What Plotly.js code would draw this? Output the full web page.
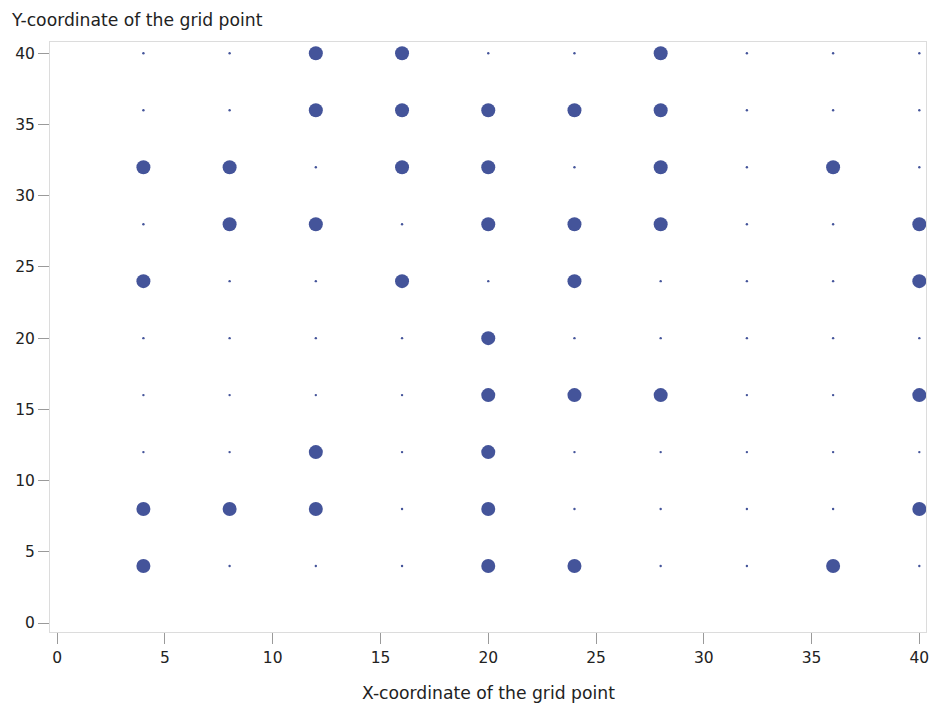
<!DOCTYPE html>
<html>
<head>
<meta charset="utf-8">
<script src="https://cdn.plot.ly/plotly-3.0.1.min.js"></script>
<style>html,body{margin:0;padding:0;background:#fff;}#chart{width:932px;height:707px;}</style>
</head>
<body>
<div id="chart"></div>
<script>
// Grid coordinates
const gridX = [4, 8, 12, 16, 20, 24, 28, 32, 36, 40];
const gridY = [40, 36, 32, 28, 24, 20, 16, 12, 8, 4];
// Occupancy of each grid point (1 = occupied, 0 = empty), rows follow gridY, columns follow gridX
const row40 = [0, 0, 1, 1, 0, 0, 1, 0, 0, 0];
const row36 = [0, 0, 1, 1, 1, 1, 1, 0, 0, 0];
const row32 = [1, 1, 0, 1, 1, 0, 1, 0, 1, 0];
const row28 = [0, 1, 1, 0, 1, 1, 1, 0, 0, 1];
const row24 = [1, 0, 0, 1, 0, 1, 0, 0, 0, 1];
const row20 = [0, 0, 0, 0, 1, 0, 0, 0, 0, 0];
const row16 = [0, 0, 0, 0, 1, 1, 1, 0, 0, 1];
const row12 = [0, 0, 1, 0, 1, 0, 0, 0, 0, 0];
const row08 = [1, 1, 1, 0, 1, 0, 0, 0, 0, 1];
const row04 = [1, 0, 0, 0, 1, 1, 0, 0, 1, 0];
const occupancy = [row40, row36, row32, row28, row24, row20, row16, row12, row08, row04];
const tickVals = [0, 5, 10, 15, 20, 25, 30, 35, 40];
const xTitle = "X-coordinate of the grid point";
const yTitle = "Y-coordinate of the grid point";

const xs = [], ys = [], sizes = [];
gridY.forEach((y, i) => {
  gridX.forEach((x, j) => {
    xs.push(x); ys.push(y);
    sizes.push(occupancy[i][j] ? 14 : 2.4);
  });
});

const font = "DejaVu Sans, Verdana, sans-serif";
const trace = {
  type: "scatter", mode: "markers", x: xs, y: ys,
  marker: {size: sizes, color: "#44549a", opacity: 1, line: {width: 0}},
  hoverinfo: "x+y"
};

const axisCommon = {
  showgrid: false, zeroline: false,
  showline: true, mirror: true, linecolor: "#dcdcdc", linewidth: 1,
  ticks: "outside", ticklen: 11, tickwidth: 1, tickcolor: "#9a9a9a",
  tickvals: tickVals, ticktext: tickVals.map(String),
  tickfont: {family: font, size: 15.5, color: "#222"}
};

const layout = {
  width: 932, height: 707,
  margin: {l: 50, r: 6, t: 42, b: 75},
  paper_bgcolor: "#fff", plot_bgcolor: "#fff",
  showlegend: false,
  xaxis: Object.assign({}, axisCommon, {range: [-0.334, 40.31]}),
  yaxis: Object.assign({}, axisCommon, {range: [-0.63, 40.79]}),
  annotations: [
    {text: yTitle, xref: "paper", yref: "paper", x: -50/876, y: 1 + 22/590,
     xanchor: "left", yanchor: "middle", showarrow: false, xshift: 9,
     font: {family: font, size: 17.2, color: "#222"}},
    {text: xTitle, xref: "paper", yref: "paper", x: 0.5, y: -61/590,
     xanchor: "center", yanchor: "middle", showarrow: false,
     font: {family: font, size: 17.2, color: "#222"}}
  ]
};

Plotly.newPlot("chart", [trace], layout, {displayModeBar: false, staticPlot: true});
</script>
</body>
</html>
